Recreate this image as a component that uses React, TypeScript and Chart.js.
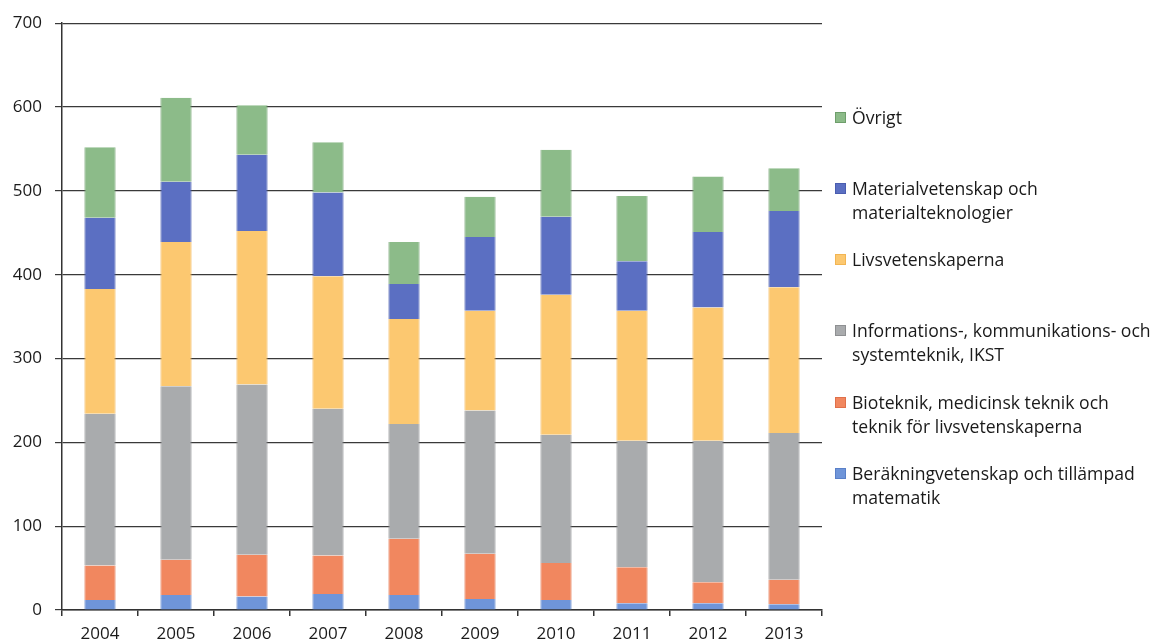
import React, { useEffect, useRef } from "react";
import { Chart, registerables } from "chart.js";

Chart.register(...registerables);

const years = ["2004", "2005", "2006", "2007", "2008", "2009", "2010", "2011", "2012", "2013"];
const berakning = [12, 18, 16, 19, 18, 13, 12, 8, 8, 7];
const bioteknik = [41, 42, 50, 46, 67, 54, 44, 43, 25, 29];
const ikst = [181, 207, 203, 175, 137, 171, 153, 151, 169, 175];
const livs = [149, 172, 183, 158, 125, 119, 167, 155, 159, 174];
const material = [85, 72, 91, 100, 42, 88, 93, 59, 90, 91];
const ovrigt = [84, 100, 59, 60, 50, 48, 80, 78, 66, 51];
const yTicks = [0, 100, 200, 300, 400, 500, 600, 700];

const seriesNames = [
  "Beräkningvetenskap och tillämpad matematik",
  "Bioteknik, medicinsk teknik och teknik för livsvetenskaperna",
  "Informations-, kommunikations- och systemteknik, IKST",
  "Livsvetenskaperna",
  "Materialvetenskap och materialteknologier",
  "Övrigt",
];
const seriesData = [berakning, bioteknik, ikst, livs, material, ovrigt];
const colors = ["#6f95d9", "#f1875f", "#a9abad", "#fcc870", "#5b6fc2", "#8cbb89"];
const borders = ["#5a80c8", "#e0704a", "#8e9092", "#f2b553", "#4a5db0", "#6e9e6b"];

const legendItems = [
  { c: 5, lines: ["Övrigt"], top: 105 },
  { c: 4, lines: ["Materialvetenskap och", "materialteknologier"], top: 176 },
  { c: 3, lines: ["Livsvetenskaperna"], top: 247 },
  { c: 2, lines: ["Informations-, kommunikations- och", "systemteknik, IKST"], top: 318 },
  { c: 1, lines: ["Bioteknik, medicinsk teknik och", "teknik för livsvetenskaperna"], top: 390 },
  { c: 0, lines: ["Beräkningvetenskap och tillämpad", "matematik"], top: 461 },
];

const FONT = "'Open Sans', sans-serif";

export default function App() {
  const ref = useRef<HTMLCanvasElement>(null);
  useEffect(() => {
    if (!ref.current) return;
    const chart = new Chart(ref.current, {
      type: "bar",
      data: {
        labels: years,
        datasets: seriesData.map((d, i) => ({
          label: seriesNames[i],
          data: d,
          backgroundColor: colors[i],
          borderColor: borders[i],
          borderWidth: { left: 1, right: 1, top: 0, bottom: 0 },
          borderSkipped: false,
        })),
      },
      options: {
        animation: false,
        responsive: true,
        maintainAspectRatio: false,
        layout: { padding: { left: 0, right: 330, top: 23, bottom: 0 } },
        plugins: { legend: { display: false }, tooltip: { enabled: false } },
        datasets: { bar: { categoryPercentage: 1, barPercentage: 0.41 } },
        scales: {
          x: {
            stacked: true,
            grid: {
              display: true,
              drawOnChartArea: false,
              offset: true,
              drawTicks: true,
              tickLength: 6,
              color: "#333",
              lineWidth: 1.5,
            },
            border: { display: true, color: "#333", width: 1.5 },
            ticks: { color: "#1a1a1a", font: { family: FONT, size: 17 }, padding: 8, maxRotation: 0 },
            afterFit: (s: any) => {
              s.height = 34;
            },
          },
          y: {
            stacked: true,
            min: 0,
            max: 700,
            afterBuildTicks: (s: any) => {
              s.ticks = yTicks.map((v) => ({ value: v }));
            },
            grid: { color: "#3a3a3a", lineWidth: 1.2, tickLength: 7 },
            border: { display: true, color: "#333", width: 1.5 },
            ticks: { color: "#1a1a1a", font: { family: FONT, size: 17 }, padding: 13 },
            afterFit: (s: any) => {
              s.width = 62;
            },
          },
        },
      },
    });
    return () => chart.destroy();
  }, []);

  return (
    <div style={{ position: "fixed", left: 0, top: 0, width: 1152, height: 644, background: "#fff" }}>
      <canvas ref={ref} />
      {legendItems.map((it, k) => (
        <div
          key={k}
          style={{
            position: "absolute",
            left: 835,
            top: it.top,
            fontFamily: FONT,
            fontSize: 17.6,
            lineHeight: "24px",
            color: "#1a1a1a",
            whiteSpace: "nowrap",
          }}
        >
          <span
            style={{
              position: "absolute",
              left: 0,
              top: 7,
              width: 11,
              height: 11,
              background: colors[it.c],
              border: `1px solid ${borders[it.c]}`,
              boxSizing: "border-box",
            }}
          />
          <div style={{ marginLeft: 17 }}>
            {it.lines.map((l, j) => (
              <div key={j}>{l}</div>
            ))}
          </div>
        </div>
      ))}
    </div>
  );
}
